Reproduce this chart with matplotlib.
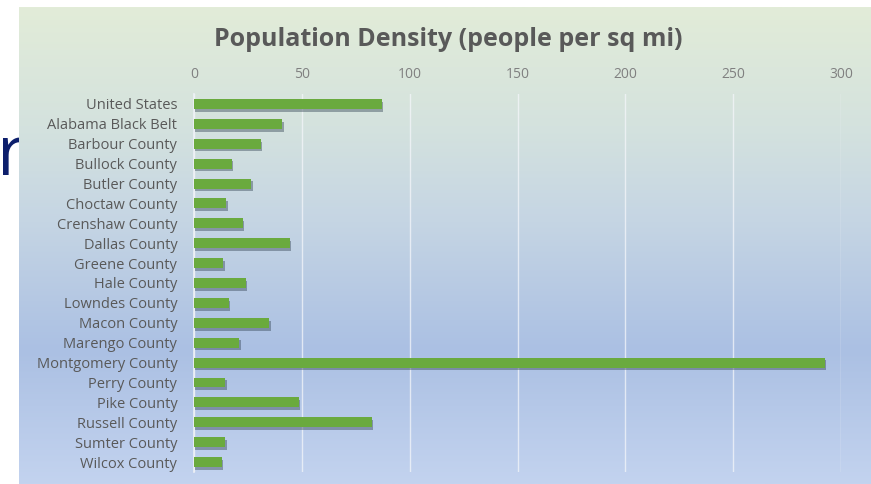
import numpy as np
import matplotlib.pyplot as plt
import matplotlib.patheffects as pe
from matplotlib.colors import LinearSegmentedColormap

# Data
areas = ["United States", "Alabama Black Belt", "Barbour County", "Bullock County",
         "Butler County", "Choctaw County", "Crenshaw County", "Dallas County",
         "Greene County", "Hale County", "Lowndes County", "Macon County",
         "Marengo County", "Montgomery County", "Perry County", "Pike County",
         "Russell County", "Sumter County", "Wilcox County"]
density = [87, 41, 31, 17.5, 26.5, 15, 22.5, 44.5, 13.5, 24, 16, 35, 21,
           292.5, 14.5, 48.5, 82.5, 14.5, 13]
x_ticks = [0, 50, 100, 150, 200, 250, 300]

W, H = 871, 484
fig = plt.figure(figsize=(W / 100, H / 100), dpi=100)
fig.patch.set_facecolor("white")

# leftover slide text peeking out behind the chart
fig.text(-0.004, (H - 175) / H, "r", fontsize=50, color="#0d1f6c",
         family="Open Sans", va="baseline", ha="left", zorder=-5)

# gradient panel behind the chart
bg = fig.add_axes([19 / W, 0, 1 - 19 / W, (H - 7) / H], zorder=-1)
grad = LinearSegmentedColormap.from_list(
    "panel", [(0.0, "#e2ecd8"), (0.25, "#d4e2de"), (0.45, "#c5d5e4"),
              (0.72, "#abc0e3"), (1.0, "#c3d3ef")])
bg.imshow(np.linspace(0, 1, 256).reshape(-1, 1), aspect="auto", cmap=grad,
          extent=[0, 1, 1, 0])
bg.set_axis_off()

# title
fig.text(448 / W, (H - 40) / H, "Population Density (people per sq mi)",
         fontsize=18, fontweight="bold", color="#595959", family="Open Sans",
         ha="center", va="center")

ax = fig.add_axes([194 / W, (H - 472) / H, (841 - 194) / W, (472 - 94) / H])
ax.set_facecolor("none")

y = np.arange(len(areas))
bars = ax.barh(y, density, height=0.5, color="#6aaa3e", zorder=3)
for b in bars:
    b.set_path_effects([pe.SimplePatchShadow(offset=(1, -2), shadow_rgbFace="#3a4a5a",
                                             alpha=0.45),
                        pe.Normal()])

ax.set_xlim(0, 300)
ax.set_ylim(len(areas) - 0.5, -0.5)
ax.set_xticks(x_ticks)
ax.xaxis.tick_top()
ax.grid(axis="x", color="#f4f6fa", linewidth=1.0, alpha=0.75, zorder=0)
ax.set_yticks(y)
ax.set_yticklabels(areas)
ax.tick_params(axis="x", length=0, pad=9, labelsize=10, labelcolor="#808080")
ax.tick_params(axis="y", length=0, pad=12, labelsize=10.5, labelcolor="#595959")
for lbl in ax.get_xticklabels() + ax.get_yticklabels():
    lbl.set_family("Open Sans")
for s in ["top", "right", "bottom"]:
    ax.spines[s].set_visible(False)
ax.spines["left"].set_color("#eef1f6")
ax.spines["left"].set_linewidth(1.2)

fig.savefig("out.png", dpi=100)
